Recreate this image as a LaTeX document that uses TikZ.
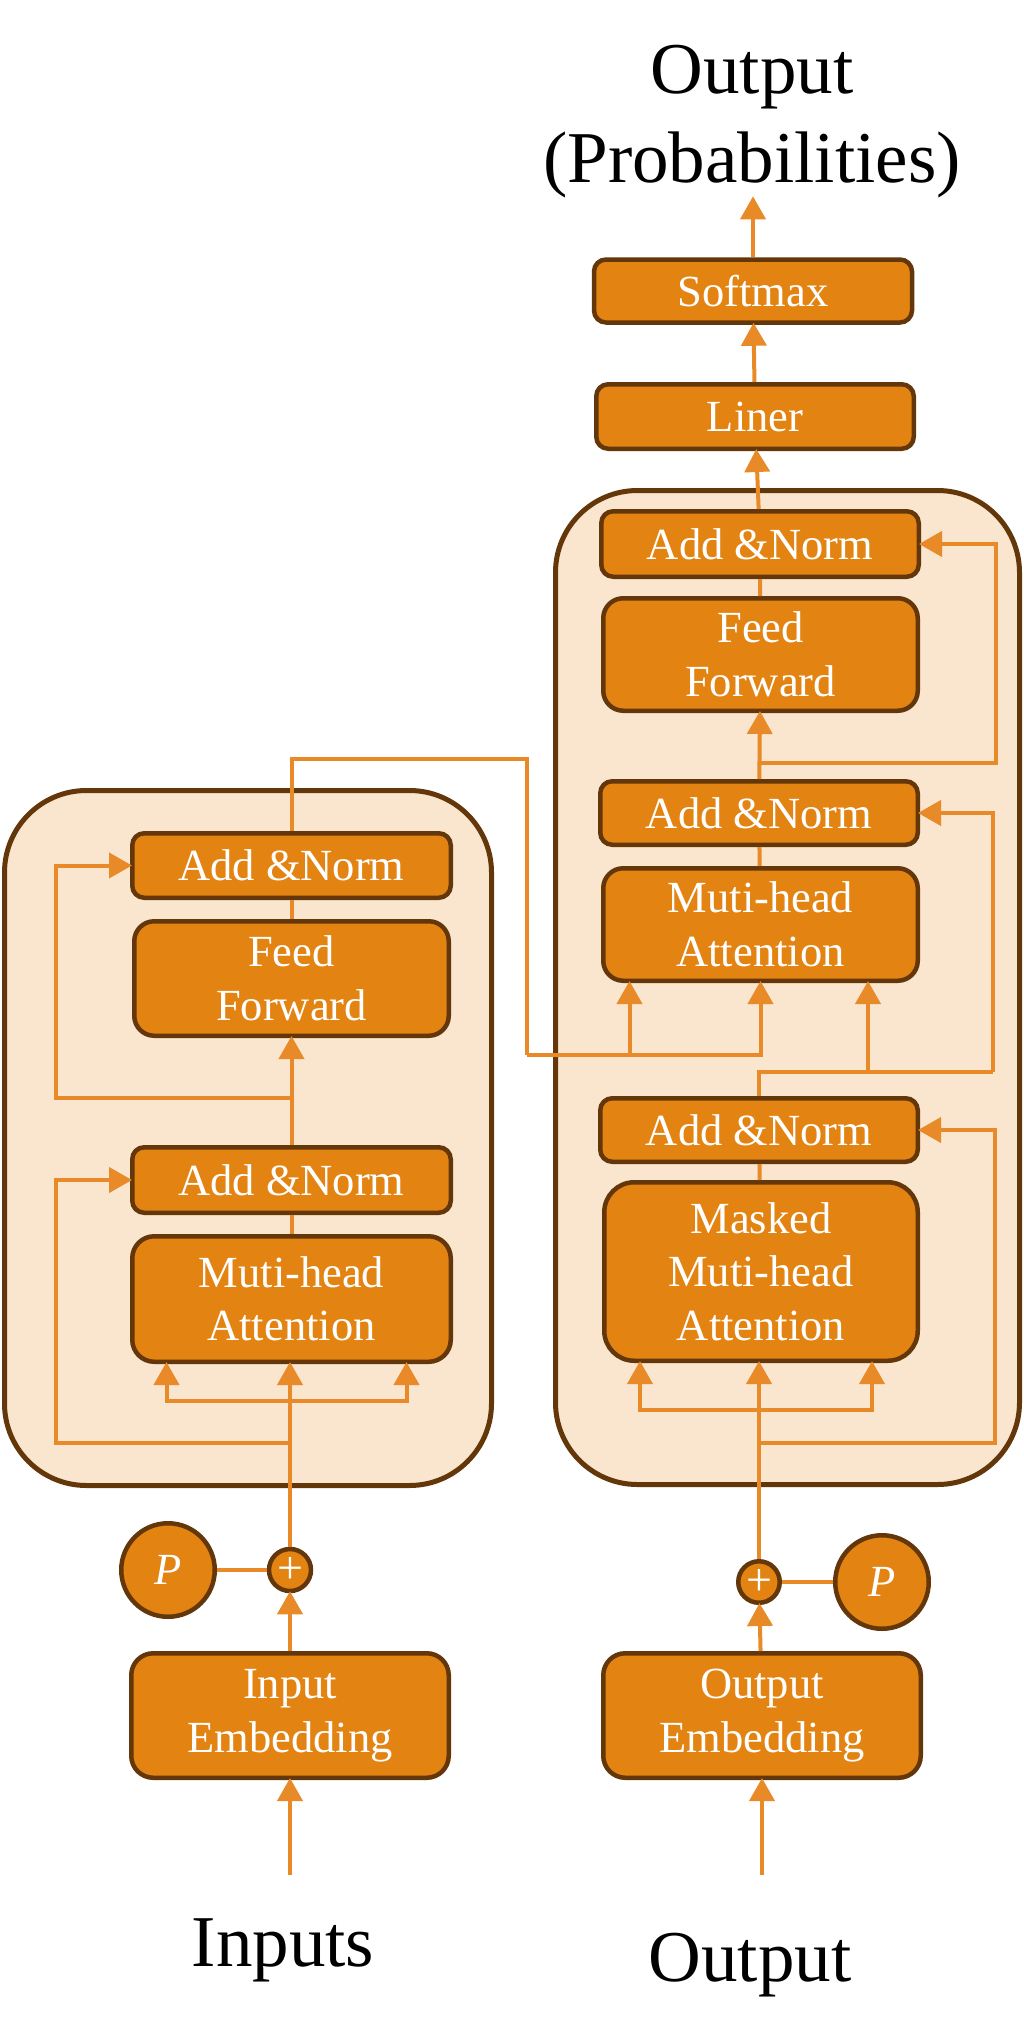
\documentclass[tikz,border=0pt]{standalone}
\usepackage{fontspec}
\setmainfont{Liberation Serif}
\usetikzlibrary{arrows.meta}
\definecolor{boxfill}{RGB}{227,131,18}
\definecolor{boxedge}{RGB}{99,55,10}
\definecolor{stackfill}{RGB}{250,229,206}
\definecolor{wirecol}{RGB}{232,138,40}
\tikzset{>={Triangle[length=23pt,width=25pt]}}

\begin{document}
\begin{tikzpicture}[x=1pt,y=-1pt,
  block/.style={draw=boxedge,fill=boxfill,line width=4.5pt,rounded corners=#1,text=white,align=center,inner sep=0pt,font=\fontsize{44.5}{53.5}\selectfont},
  block/.default=12pt,
  stack/.style={draw=boxedge,fill=stackfill,line width=5pt,rounded corners=82pt},
  wire/.style={draw=wirecol,line width=4pt},
  arr/.style={wire,->,shorten >=-2pt},
  addcirc/.style={circle,draw=boxedge,fill=boxfill,line width=4.5pt,text=white,inner sep=0pt,minimum size=#1,font=\fontsize{46}{50}\selectfont},
  bigtext/.style={inner sep=0pt,align=center,font=\fontsize{73}{89}\selectfont}]
\useasboundingbox (0,0) rectangle (1024,2042);

\draw[stack] (4.5,790.5) rectangle (491.5,1485.5);
\draw[stack] (555.5,490.5) rectangle (1019.5,1484.5);

\node[bigtext,anchor=north] (prob) at (752,45) {Output\\(Probabilities)};
\node[block,minimum width=318pt,minimum height=63pt] (softmax) at (753,291) {Softmax};
\node[block,minimum width=317.5pt,minimum height=64.5pt] (liner) at (755,416.5) {Liner};
\node[block,minimum width=317.5pt,minimum height=65.5pt] (dan1) at (760,544) {Add \&Norm};
\node[block=20pt,minimum width=314.5pt,minimum height=112.5pt] (dff) at (760.5,654.5) {Feed\\Forward};
\node[block,minimum width=317.5pt,minimum height=63.5pt] (dan2) at (759,813) {Add \&Norm};
\node[block=20pt,minimum width=314.5pt,minimum height=112.5pt] (dmha) at (760.5,924.5) {Muti-head\\Attention};
\node[block,minimum width=317.5pt,minimum height=63.5pt] (dan3) at (759,1130) {Add \&Norm};
\node[block=30pt,minimum width=313.5pt,minimum height=178.5pt] (dmmha) at (761,1271.5) {Masked\\Muti-head\\Attention};
\node[addcirc=41.5pt] (dplus) at (759,1582) {+};
\node[addcirc=93.5pt,font=\fontsize{44.5}{50}\selectfont\itshape] (dpe) at (882,1582) {P};
\node[block=22pt,minimum width=317.5pt,minimum height=124.5pt] (demb) at (762,1715.5) {Output\\Embedding};
\node[bigtext,anchor=base] (outtext) at (750,1981) {Output};
\coordinate (din) at (762,1875);

\node[block,minimum width=318.5pt,minimum height=64.5pt] (ean1) at (291.5,865.5) {Add \&Norm};
\node[block=20pt,minimum width=314.5pt,minimum height=114.5pt] (eff) at (291.5,978.5) {Feed\\Forward};
\node[block,minimum width=318.5pt,minimum height=65.5pt] (ean2) at (291.5,1180) {Add \&Norm};
\node[block=22pt,minimum width=318.5pt,minimum height=125.5pt] (emha) at (291.5,1299) {Muti-head\\Attention};
\node[addcirc=42pt] (eplus) at (290,1570) {+};
\node[addcirc=93.5pt,font=\fontsize{44.5}{50}\selectfont\itshape] (epe) at (168,1570) {P};
\node[block=22pt,minimum width=317.5pt,minimum height=124.5pt] (eemb) at (290,1715.5) {Input\\Embedding};
\node[bigtext,anchor=base] (intext) at (283,1966) {Inputs};
\coordinate (ein) at (290,1875);

\draw[arr] (ein) -- (eemb);
\draw[arr] (eemb) -- (eplus);
\draw[wire] (epe) -- (eplus);
\draw[arr] (eplus) -- (eplus |- emha.south);
\coordinate (ebr) at (290,1401);
\coordinate (eres1) at (290,1443);
\draw[arr] (ebr) -| ([xshift=-125pt]emha.south);
\draw[arr] (ebr) -| ([xshift=115pt]emha.south);
\draw[arr] (eres1) -| ([xshift=-74pt]ean2.west) -- (ean2.west);
\draw[wire] (emha) -- (ean2);
\draw[arr] (ean2) -- (eff);
\coordinate (eres2) at (291.5,1098);
\draw[arr] (eres2) -| ([xshift=-74pt]ean1.west) -- (ean1.west);
\draw[wire] (eff) -- (ean1);
\coordinate (ctop) at (527,759);
\coordinate (cbot) at (527,1055);
\draw[wire] (ean1.north) |- (ctop) -- (cbot);
\draw[arr] (cbot) -| (dmha.south);
\draw[arr] (cbot) -| ([xshift=-131pt]dmha.south);

\draw[arr] (din) -- (demb);
\draw[arr] (demb) -- (dplus);
\draw[wire] (dplus) -- (dpe);
\draw[arr] (dplus) -- (dplus |- dmmha.south);
\coordinate (dbr) at (759,1410);
\coordinate (dres1) at (759,1443);
\draw[arr] (dbr) -| ([xshift=-121pt]dmmha.south);
\draw[arr] (dbr) -| ([xshift=111pt]dmmha.south);
\draw[arr] (dres1) -| ([xshift=75pt]dan3.east) -- (dan3.east);
\draw[wire] (dmmha) -- (dan3);
\coordinate (dres2) at (993,1072);
\coordinate (dbr2) at (868,1072);
\draw[wire] (dan3.north) |- (dres2);
\draw[arr] (dres2) |- (dan2.east);
\draw[arr] (dbr2) -- (dbr2 |- dmha.south);
\draw[wire] (dmha) -- (dan2);
\draw[arr] (dan2) -- (dff);
\coordinate (dres3) at (760,763);
\draw[arr] (dres3) -| ([xshift=75pt]dan1.east) -- (dan1.east);
\draw[wire] (dff) -- (dan1);
\draw[arr] (dan1) -- (liner);
\draw[arr] (liner) -- (softmax);
\draw[arr] (softmax) -- (softmax |- prob.south);
\end{tikzpicture}
\end{document}
